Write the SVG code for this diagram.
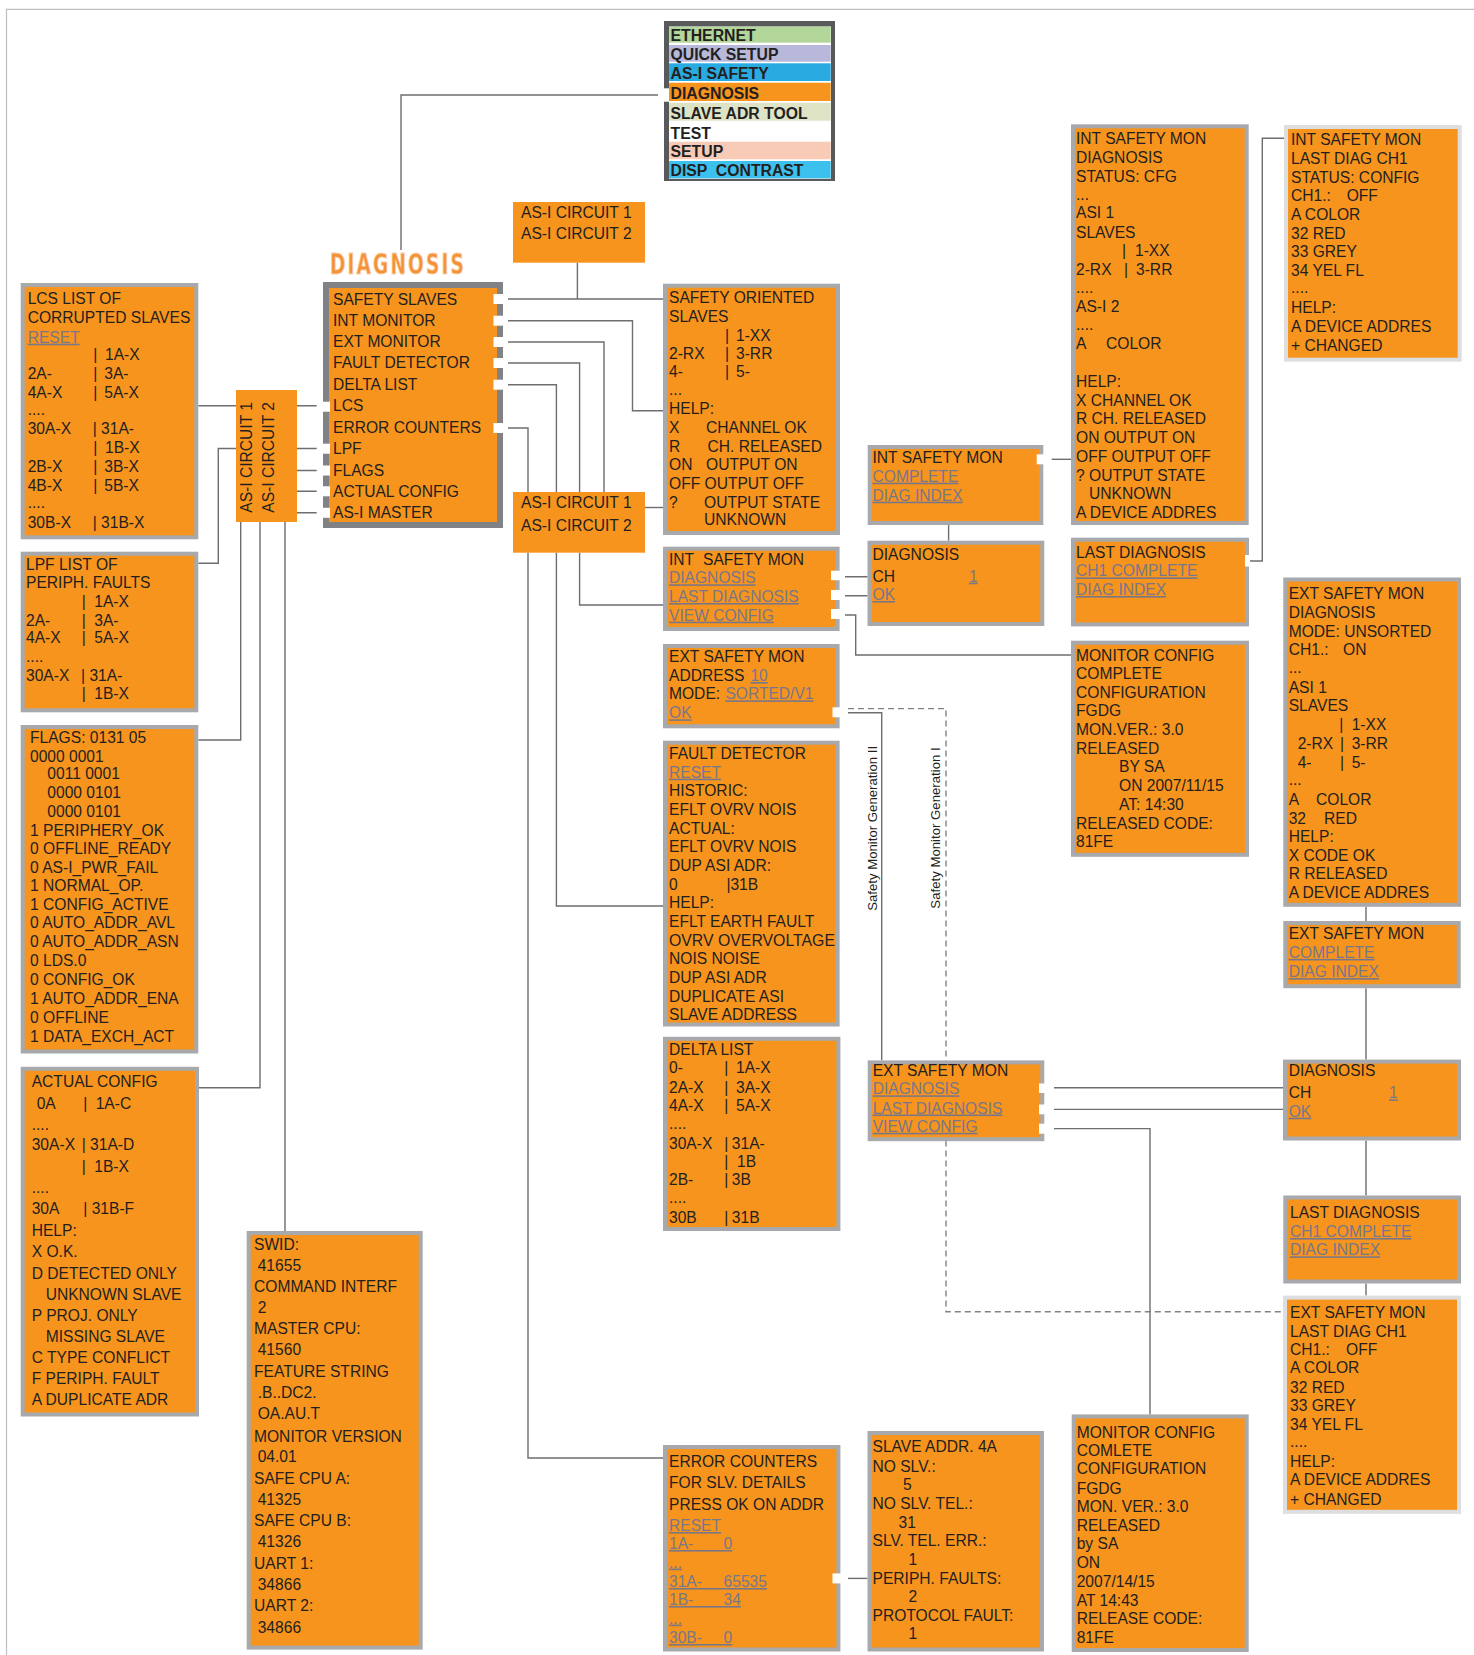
<svg xmlns="http://www.w3.org/2000/svg" width="1474" height="1655" viewBox="0 0 1474 1655">
<style>
.b{fill:#F7941D;stroke:#A7A9AC;stroke-width:4}
.bl{fill:#F7941D;stroke:#DDDEDF;stroke-width:4}
.o{fill:#F7941D}
.t{font-family:"Liberation Sans",Arial,sans-serif;font-size:15.6px;fill:#231F20}
.k{fill:#77778C;text-decoration:underline}
.w{fill:#fff}
.c{fill:none;stroke:#6D6E71;stroke-width:1.4}
.d{fill:none;stroke:#808285;stroke-width:1.4;stroke-dasharray:6 4}
.m{font-family:"Liberation Sans",Arial,sans-serif;font-size:15.8px;font-weight:bold;fill:#231F20}
.r{font-family:"Liberation Sans",Arial,sans-serif;font-size:13.2px;fill:#231F20}
</style>
<g id="frame"><path d="M6.5,1655 V9.3 H1474" fill="none" stroke="#BCBEC0" stroke-width="1.2"/></g>

<g id="connectors">
<path class="c" d="M401,250 V95 H658"/>
<path class="c" d="M508,299 H663 M577.4,262.7 V299"/>
<path class="c" d="M508,320.7 H632.5 V410.7 H663"/>
<path class="c" d="M508,342 H604 V492"/>
<path class="c" d="M508,363 H579.6 V492"/>
<path class="c" d="M508,384.7 H556.4 V492"/>
<path class="c" d="M508,428 H528 V492"/>
<path class="c" d="M645,507.5 H663"/>
<path class="c" d="M528,552.7 V1458 H663"/>
<path class="c" d="M556.4,552.7 V906 H663"/>
<path class="c" d="M579.6,552.7 V605 H663"/>
<path class="c" d="M296.7,405.7 H316.7 M198.3,405.7 H236"/>
<path class="c" d="M296.7,448.5 H316.7 M236,448.5 H218.3 V563.3 H198.3"/>
<path class="c" d="M296.7,470.5 H316.7 M240.7,522 V740 H198.3"/>
<path class="c" d="M296.7,491.3 H316.7 M260,522 V1087.7 H199"/>
<path class="c" d="M296.7,512.8 H316.7 M285,522 V1231"/>
<path class="c" d="M845,576.7 H867.5 M845,595.7 H867.5"/>
<path class="c" d="M845,615 H855.7 V655 H1071"/>
<path class="c" d="M948.6,525 V540.7"/>
<path class="c" d="M1051.7,459.3 H1071"/>
<path class="c" d="M1249,561 H1262.3 V138.3 H1284"/>
<path class="d" d="M848,708.6 H946 V1311.8 H1283"/>
<path class="c" d="M848,712.7 H881.7 V1060.4"/>
<path class="c" d="M1054,1087.8 H1283 M1054,1109.4 H1283"/>
<path class="c" d="M1054,1128.6 H1150 V1414.4"/>
<path class="c" d="M848,1578.4 H867.5"/>
<path class="c" d="M1366,906.8 V921 M1366,988.2 V1059.6 M1366,1140.5 V1195.5 M1366,1283.5 V1295.6"/>
<text class="r" transform="translate(877,828.4) rotate(-90)" text-anchor="middle">Safety Monitor Generation II</text>
<text class="r" transform="translate(939.5,828) rotate(-90)" text-anchor="middle">Safety Monitor Generation I</text>
</g>

<g id="menu">
<rect x="664" y="21" width="171" height="160" fill="#58595B"/>
<rect x="669" y="26.5" width="162" height="152.3" fill="#fff"/>
<rect x="662" y="88.3" width="7.5" height="13.4" fill="#fff"/>
<rect x="669" y="26.7" width="161.7" height="16" fill="#B3D69B"/>
<rect x="669" y="45" width="161.7" height="16.7" fill="#B8B8DA"/>
<rect x="669" y="63.3" width="161.7" height="17.7" fill="#29AAE1"/>
<rect x="669" y="82.7" width="161.7" height="18.3" fill="#F7941D"/>
<rect x="669" y="102.7" width="161.7" height="18" fill="#DEE3C5"/>
<rect x="669" y="141.7" width="161.7" height="17.6" fill="#F7CBB6"/>
<rect x="669" y="161" width="161.7" height="17.3" fill="#3CC0EE"/>
<g class="m">
<text x="670.5" y="40.7">ETHERNET</text>
<text x="670.5" y="60">QUICK SETUP</text>
<text x="670.5" y="79">AS-I SAFETY</text>
<text x="670.5" y="99.3">DIAGNOSIS</text>
<text x="670.5" y="119.3" textLength="137" lengthAdjust="spacingAndGlyphs">SLAVE ADR TOOL</text>
<text x="670.5" y="139">TEST</text>
<text x="670.5" y="157.3">SETUP</text>
<text x="670.5" y="175.7" textLength="133" lengthAdjust="spacingAndGlyphs" xml:space="preserve">DISP  CONTRAST</text>
</g>
</g>

<g id="diagnosis-title">
<text x="330" y="274" font-family="'Liberation Sans Narrow','DejaVu Sans Condensed','Liberation Sans',sans-serif" font-weight="bold" font-size="29" letter-spacing="3" fill="#F4923A" stroke="#F9CFA3" stroke-width="0.8" textLength="136" lengthAdjust="spacingAndGlyphs">DIAGNOSIS</text>
</g>

<g id="diagnosis-menu">
<rect x="326" y="285" width="174" height="240" fill="#F7941D" stroke="#808285" stroke-width="6"/>
<rect class="w" x="493.5" y="294" width="10" height="10"/>
<rect class="w" x="493.5" y="315.7" width="10" height="10"/>
<rect class="w" x="493.5" y="337" width="10" height="10"/>
<rect class="w" x="493.5" y="358" width="10" height="10"/>
<rect class="w" x="493.5" y="379.7" width="10" height="10"/>
<rect class="w" x="493.5" y="423" width="10" height="10"/>
<rect class="w" x="322.5" y="401.7" width="7.5" height="10"/>
<rect class="w" x="322.5" y="443.7" width="7.5" height="10"/>
<rect class="w" x="322.5" y="465.5" width="7.5" height="10"/>
<rect class="w" x="322.5" y="486.3" width="7.5" height="10"/>
<rect class="w" x="322.5" y="507.8" width="7.5" height="10"/>
<g class="t">
<text x="333" y="305">SAFETY SLAVES</text>
<text x="333" y="326">INT MONITOR</text>
<text x="333" y="347">EXT MONITOR</text>
<text x="333" y="368">FAULT DETECTOR</text>
<text x="333" y="390">DELTA LIST</text>
<text x="333" y="411">LCS</text>
<text x="333" y="432.5">ERROR COUNTERS</text>
<text x="333" y="454">LPF</text>
<text x="333" y="475.5">FLAGS</text>
<text x="333" y="496.7">ACTUAL CONFIG</text>
<text x="333" y="518">AS-I MASTER</text>
</g>
</g>

<g id="asi-circuit-left">
<rect class="o" x="236" y="390" width="61" height="132"/>
<g class="t">
<text transform="translate(251.7,512.7) rotate(-90)">AS-I CIRCUIT 1</text>
<text transform="translate(274,512.7) rotate(-90)">AS-I CIRCUIT 2</text>
</g>
</g>

<g id="asi-circuit-top">
<rect class="o" x="513" y="202" width="132" height="60.7"/>
<g class="t"><text x="521" y="217.7">AS-I CIRCUIT 1</text><text x="521" y="239">AS-I CIRCUIT 2</text></g>
</g>

<g id="asi-circuit-mid">
<rect class="o" x="513" y="492" width="132" height="60.7"/>
<g class="t"><text x="521" y="508.3">AS-I CIRCUIT 1</text><text x="521" y="530.7">AS-I CIRCUIT 2</text></g>
</g>

<g id="lcs">
<rect class="b" x="22.7" y="285" width="173.6" height="252.3"/>
<g class="t">
<text x="27.7" y="304">LCS LIST OF</text>
<text x="27.7" y="323.3">CORRUPTED SLAVES</text>
<text x="27.7" y="342.7" class="k">RESET</text>
<text y="360"><tspan x="93.3">|</tspan><tspan x="105">1A-X</tspan></text>
<text y="379"><tspan x="27.7">2A-</tspan><tspan x="93.3">|</tspan><tspan x="104.3">3A-</tspan></text>
<text y="397.7"><tspan x="27.7">4A-X</tspan><tspan x="93.3">|</tspan><tspan x="104.3">5A-X</tspan></text>
<text x="27.7" y="415">....</text>
<text y="434.3"><tspan x="27.7">30A-X</tspan><tspan x="92.7">| 31A-</tspan></text>
<text y="453.3"><tspan x="93.3">|</tspan><tspan x="105">1B-X</tspan></text>
<text y="472.3"><tspan x="27.7">2B-X</tspan><tspan x="93.3">|</tspan><tspan x="104.3">3B-X</tspan></text>
<text y="491"><tspan x="27.7">4B-X</tspan><tspan x="93.3">|</tspan><tspan x="104.3">5B-X</tspan></text>
<text x="27.7" y="508.3">....</text>
<text y="528.3"><tspan x="27.7">30B-X</tspan><tspan x="92.7">| 31B-X</tspan></text>
</g>
</g>

<g id="lpf">
<rect class="b" x="22.7" y="553.7" width="173.6" height="156.6"/>
<g class="t">
<text x="26" y="570">LPF LIST OF</text>
<text x="26" y="588.3">PERIPH. FAULTS</text>
<text y="606.7"><tspan x="81.7">|</tspan><tspan x="94.3">1A-X</tspan></text>
<text y="625.7"><tspan x="26">2A-</tspan><tspan x="81.7">|</tspan><tspan x="94.3">3A-</tspan></text>
<text y="643.3"><tspan x="26">4A-X</tspan><tspan x="81.7">|</tspan><tspan x="94.3">5A-X</tspan></text>
<text x="26" y="661.7">....</text>
<text y="680.7"><tspan x="26">30A-X</tspan><tspan x="81">| 31A-</tspan></text>
<text y="699.3"><tspan x="81.7">|</tspan><tspan x="94.3">1B-X</tspan></text>
</g>
</g>

<g id="flags">
<rect class="b" x="22.7" y="727" width="173.6" height="324.5"/>
<g class="t">
<text x="30" y="742.7">FLAGS: 0131 05</text>
<text x="30" y="761.7">0000 0001</text>
<text x="47.3" y="779.3">0011 0001</text>
<text x="47.3" y="798.3">0000 0101</text>
<text x="47.3" y="816.7">0000 0101</text>
<text x="30" y="835.7">1 PERIPHERY_OK</text>
<text x="30" y="854">0 OFFLINE_READY</text>
<text x="30" y="872.7">0 AS-I_PWR_FAIL</text>
<text x="30" y="891">1 NORMAL_OP.</text>
<text x="30" y="910">1 CONFIG_ACTIVE</text>
<text x="30" y="928.3">0 AUTO_ADDR_AVL</text>
<text x="30" y="947.3">0 AUTO_ADDR_ASN</text>
<text x="30" y="966">0 LDS.0</text>
<text x="30" y="985">0 CONFIG_OK</text>
<text x="30" y="1004">1 AUTO_ADDR_ENA</text>
<text x="30" y="1023">0 OFFLINE</text>
<text x="30" y="1041.8">1 DATA_EXCH_ACT</text>
</g>
</g>

<g id="actual-config">
<rect class="b" x="22.7" y="1068.8" width="174.3" height="345.7"/>
<g class="t">
<text x="31.7" y="1086.5">ACTUAL CONFIG</text>
<text y="1108.6"><tspan x="36.7">0A</tspan><tspan x="83.3">|</tspan><tspan x="95.7">1A-C</tspan></text>
<text x="31.7" y="1129.5">....</text>
<text y="1150.4"><tspan x="31.7">30A-X</tspan><tspan x="81.7">| 31A-D</tspan></text>
<text y="1172"><tspan x="81.7">|</tspan><tspan x="94.3">1B-X</tspan></text>
<text x="31.7" y="1193">....</text>
<text y="1214.3"><tspan x="31.7">30A</tspan><tspan x="83.3">| 31B-F</tspan></text>
<text x="31.7" y="1236">HELP:</text>
<text x="31.7" y="1256.9">X O.K.</text>
<text x="31.7" y="1278.6">D DETECTED ONLY</text>
<text x="45.7" y="1300">UNKNOWN SLAVE</text>
<text x="31.7" y="1320.8">P PROJ. ONLY</text>
<text x="45.7" y="1341.7">MISSING SLAVE</text>
<text x="31.7" y="1363.4">C TYPE CONFLICT</text>
<text x="31.7" y="1384.3">F PERIPH. FAULT</text>
<text x="31.7" y="1405.2">A DUPLICATE ADR</text>
</g>
</g>

<g id="as-i-master">
<rect class="b" x="248.7" y="1233" width="172" height="414.6"/>
<g class="t">
<text x="254" y="1249.8">SWID:</text>
<text x="257.7" y="1270.7">41655</text>
<text x="254" y="1291.6">COMMAND INTERF</text>
<text x="257.7" y="1313.3">2</text>
<text x="254" y="1334.2">MASTER CPU:</text>
<text x="257.7" y="1355">41560</text>
<text x="254" y="1377.2">FEATURE STRING</text>
<text x="257.7" y="1398">.B..DC2.</text>
<text x="257.7" y="1419">OA.AU.T</text>
<text x="254" y="1441.5">MONITOR VERSION</text>
<text x="257.7" y="1462.4">04.01</text>
<text x="254" y="1483.7">SAFE CPU A:</text>
<text x="257.7" y="1505.4">41325</text>
<text x="254" y="1526.3">SAFE CPU B:</text>
<text x="257.7" y="1547.2">41326</text>
<text x="254" y="1569">UART 1:</text>
<text x="257.7" y="1590.2">34866</text>
<text x="254" y="1610.7">UART 2:</text>
<text x="257.7" y="1632.8">34866</text>
</g>
</g>

<g id="safety-oriented-slaves">
<rect class="b" x="665" y="285.7" width="173" height="247.3"/>
<g class="t">
<text x="669" y="302.7">SAFETY ORIENTED</text>
<text x="669" y="321.7">SLAVES</text>
<text y="340.7"><tspan x="725">|</tspan><tspan x="736">1-XX</tspan></text>
<text y="358.7"><tspan x="669">2-RX</tspan><tspan x="725">|</tspan><tspan x="736">3-RR</tspan></text>
<text y="377.3"><tspan x="669">4-</tspan><tspan x="725">|</tspan><tspan x="736">5-</tspan></text>
<text x="669" y="395">...</text>
<text x="669" y="414">HELP:</text>
<text y="433.3"><tspan x="669">X</tspan><tspan x="706">CHANNEL OK</tspan></text>
<text y="452.3"><tspan x="669">R</tspan><tspan x="707.6">CH. RELEASED</tspan></text>
<text y="470"><tspan x="669">ON</tspan><tspan x="706">OUTPUT ON</tspan></text>
<text x="669" y="489">OFF OUTPUT OFF</text>
<text y="508.3"><tspan x="669">?</tspan><tspan x="704">OUTPUT STATE</tspan></text>
<text x="704" y="525">UNKNOWN</text>
</g>
</g>

<g id="int-safety-mon">
<rect class="b" x="665" y="548.7" width="172.6" height="80.3"/>
<rect class="w" x="831" y="570.7" width="10" height="9.5"/>
<rect class="w" x="831" y="590" width="10" height="10"/>
<rect class="w" x="831" y="609" width="10" height="10"/>
<g class="t">
<text y="565"><tspan x="669">INT</tspan><tspan x="703">SAFETY MON</tspan></text>
<text x="669" y="583.3" class="k">DIAGNOSIS</text>
<text x="669" y="602" class="k">LAST DIAGNOSIS</text>
<text x="669" y="620.7" class="k">VIEW CONFIG</text>
</g>
</g>

<g id="ext-safety-mon-address">
<rect class="b" x="665" y="646" width="172.6" height="80.3"/>
<rect class="w" x="832.5" y="707.3" width="9" height="10"/>
<g class="t">
<text x="669" y="662.3">EXT SAFETY MON</text>
<text y="681"><tspan x="669">ADDRESS</tspan><tspan x="750.4" class="k">10</tspan></text>
<text y="699.3"><tspan x="669">MODE:</tspan><tspan x="725.4" class="k">SORTED/V1</tspan></text>
<text x="669" y="718.3" class="k">OK</text>
</g>
</g>

<g id="fault-detector">
<rect class="b" x="665" y="742.7" width="172.6" height="281.8"/>
<g class="t">
<text x="669" y="759">FAULT DETECTOR</text>
<text x="669" y="777.7" class="k">RESET</text>
<text x="669" y="796">HISTORIC:</text>
<text x="669" y="814.7">EFLT OVRV NOIS</text>
<text x="669" y="833.7">ACTUAL:</text>
<text x="669" y="851.7">EFLT OVRV NOIS</text>
<text x="669" y="870.7">DUP ASI ADR:</text>
<text y="890"><tspan x="669">0</tspan><tspan x="726.4">|31B</tspan></text>
<text x="669" y="907.7">HELP:</text>
<text x="669" y="926.7">EFLT EARTH FAULT</text>
<text x="669" y="945.7" textLength="166" lengthAdjust="spacingAndGlyphs">OVRV OVERVOLTAGE</text>
<text x="669" y="963.7">NOIS NOISE</text>
<text x="669" y="982.7">DUP ASI ADR</text>
<text x="669" y="1001.5">DUPLICATE ASI</text>
<text x="669" y="1019.6">SLAVE ADDRESS</text>
</g>
</g>

<g id="delta-list">
<rect class="b" x="665" y="1038.8" width="173.4" height="190.2"/>
<g class="t">
<text x="669" y="1055.3">DELTA LIST</text>
<text y="1073.4"><tspan x="669">0-</tspan><tspan x="724.3">|</tspan><tspan x="736">1A-X</tspan></text>
<text y="1092.8"><tspan x="669">2A-X</tspan><tspan x="724.3">|</tspan><tspan x="736">3A-X</tspan></text>
<text y="1111.3"><tspan x="669">4A-X</tspan><tspan x="724.3">|</tspan><tspan x="736">5A-X</tspan></text>
<text x="669" y="1128.5">....</text>
<text y="1148.7"><tspan x="669">30A-X</tspan><tspan x="724.3">|</tspan><tspan x="731.8">31A-</tspan></text>
<text y="1167.3"><tspan x="724.3">|</tspan><tspan x="737">1B</tspan></text>
<text y="1185.3"><tspan x="669">2B-</tspan><tspan x="724.3">|</tspan><tspan x="731.8">3B</tspan></text>
<text x="669" y="1203">....</text>
<text y="1223.2"><tspan x="669">30B</tspan><tspan x="724.3">|</tspan><tspan x="731.8">31B</tspan></text>
</g>
</g>

<g id="error-counters">
<rect class="b" x="665" y="1447" width="173.4" height="202.5"/>
<rect class="w" x="832.5" y="1573.4" width="9" height="10"/>
<g class="t">
<text x="669" y="1467.3">ERROR COUNTERS</text>
<text x="669" y="1488">FOR SLV. DETAILS</text>
<text x="669" y="1509.5">PRESS OK ON ADDR</text>
<text x="669" y="1531" class="k">RESET</text>
<text x="669" y="1549" class="k">1A-&#160;&#160;&#160;&#160;&#160;&#160;&#160;0</text>
<text x="669" y="1567.6" class="k">...</text>
<text x="669" y="1587" class="k">31A-&#160;&#160;&#160;&#160;&#160;65535</text>
<text x="669" y="1605" class="k">1B-&#160;&#160;&#160;&#160;&#160;&#160;&#160;34</text>
<text x="669" y="1623.6" class="k">...</text>
<text x="669" y="1643" class="k">30B-&#160;&#160;&#160;&#160;&#160;0</text>
</g>
</g>

<g id="slave-addr">
<rect class="b" x="869.5" y="1433" width="172.5" height="216.5"/>
<g class="t">
<text x="872.5" y="1452.2">SLAVE ADDR. 4A</text>
<text x="872.5" y="1471.6">NO SLV.:</text>
<text x="903" y="1490">5</text>
<text x="872.5" y="1508.6">NO SLV. TEL.:</text>
<text x="898.6" y="1527.6">31</text>
<text x="872.5" y="1546">SLV. TEL. ERR.:</text>
<text x="908.6" y="1564.6">1</text>
<text x="872.5" y="1583.5">PERIPH. FAULTS:</text>
<text x="908.6" y="1602">2</text>
<text x="872.5" y="1620.5">PROTOCOL FAULT:</text>
<text x="908.6" y="1638.6">1</text>
</g>
</g>

<g id="int-complete">
<rect class="b" x="869.7" y="447" width="171.6" height="76"/>
<rect class="w" x="1036.7" y="454.3" width="8.3" height="10"/>
<g class="t">
<text x="872.5" y="462.7">INT SAFETY MON</text>
<text x="872.5" y="481.7" class="k">COMPLETE</text>
<text x="872.5" y="500.7" class="k">DIAG INDEX</text>
</g>
</g>

<g id="int-diagnosis-ch">
<rect class="b" x="869.5" y="542.7" width="172.8" height="81.3"/>
<g class="t">
<text x="872.5" y="560">DIAGNOSIS</text>
<text x="872.5" y="581.7">CH</text>
<text x="969" y="581.7" class="k">1</text>
<text x="872.5" y="600" class="k">OK</text>
</g>
</g>

<g id="int-diagnosis-status">
<rect class="b" x="1073" y="126.3" width="173.7" height="396.7"/>
<g class="t">
<text x="1076" y="144">INT SAFETY MON</text>
<text x="1076" y="162.7">DIAGNOSIS</text>
<text x="1076" y="181.7">STATUS: CFG</text>
<text x="1076" y="200">...</text>
<text x="1076" y="218.3">ASI 1</text>
<text x="1076" y="237.7">SLAVES</text>
<text y="256"><tspan x="1122">|</tspan><tspan x="1135">1-XX</tspan></text>
<text y="275"><tspan x="1076">2-RX</tspan><tspan x="1124">|</tspan><tspan x="1136">3-RR</tspan></text>
<text x="1076" y="293">....</text>
<text x="1076" y="311.7">AS-I 2</text>
<text x="1076" y="330">....</text>
<text y="349.3"><tspan x="1076">A</tspan><tspan x="1106">COLOR</tspan></text>
<text x="1076" y="386.7">HELP:</text>
<text x="1076" y="405.7">X CHANNEL OK</text>
<text x="1076" y="424.3">R CH. RELEASED</text>
<text x="1076" y="442.7">ON OUTPUT ON</text>
<text x="1076" y="461.7">OFF OUTPUT OFF</text>
<text x="1076" y="480.7">? OUTPUT STATE</text>
<text x="1089" y="499">UNKNOWN</text>
<text x="1076" y="518.3">A DEVICE ADDRES</text>
</g>
</g>

<g id="int-last-diagnosis">
<rect class="b" x="1073" y="539.7" width="174" height="84.7"/>
<rect class="w" x="1245" y="555" width="5" height="11.5"/>
<g class="t">
<text x="1076" y="557.9">LAST DIAGNOSIS</text>
<text x="1076" y="576.4" class="k">CH1 COMPLETE</text>
<text x="1076" y="595" class="k">DIAG INDEX</text>
</g>
</g>

<g id="int-monitor-config">
<rect class="b" x="1073" y="642.7" width="174" height="212.1"/>
<g class="t">
<text x="1076" y="661.4">MONITOR CONFIG</text>
<text x="1076" y="679.3">COMPLETE</text>
<text x="1076" y="697.9">CONFIGURATION</text>
<text x="1076" y="716.4">FGDG</text>
<text x="1076" y="734.6">MON.VER.: 3.0</text>
<text x="1076" y="753.6">RELEASED</text>
<text x="1119" y="772">BY SA</text>
<text x="1119" y="790.7">ON 2007/11/15</text>
<text x="1119" y="809.6">AT: 14:30</text>
<text x="1076" y="828.6">RELEASED CODE:</text>
<text x="1076" y="847.1">81FE</text>
</g>
</g>

<g id="int-last-diag-ch1">
<rect class="bl" x="1286" y="127" width="173.7" height="232.7"/>
<g class="t">
<text x="1291" y="145">INT SAFETY MON</text>
<text x="1291" y="164">LAST DIAG CH1</text>
<text x="1291" y="182.7">STATUS: CONFIG</text>
<text y="200.7"><tspan x="1291">CH1.:</tspan><tspan x="1346.7">OFF</tspan></text>
<text x="1291" y="220">A COLOR</text>
<text x="1291" y="239">32 RED</text>
<text x="1291" y="257">33 GREY</text>
<text x="1291" y="275.7">34 YEL FL</text>
<text x="1291" y="293.3">....</text>
<text x="1291" y="313.3">HELP:</text>
<text x="1291" y="331.7">A DEVICE ADDRES</text>
<text x="1291" y="350.7">+ CHANGED</text>
</g>
</g>

<g id="ext-diagnosis-mode">
<rect class="b" x="1285.3" y="579.5" width="173.7" height="325.3"/>
<g class="t">
<text x="1288.7" y="599">EXT SAFETY MON</text>
<text x="1288.7" y="617.9">DIAGNOSIS</text>
<text x="1288.7" y="636.8">MODE: UNSORTED</text>
<text y="655"><tspan x="1288.7">CH1.:</tspan><tspan x="1343">ON</tspan></text>
<text x="1288.7" y="672.9">...</text>
<text x="1288.7" y="692.5">ASI 1</text>
<text x="1288.7" y="711.4">SLAVES</text>
<text y="730"><tspan x="1339.3">|</tspan><tspan x="1351.7">1-XX</tspan></text>
<text y="748.6"><tspan x="1297.7">2-RX</tspan><tspan x="1340">|</tspan><tspan x="1351.7">3-RR</tspan></text>
<text y="767.5"><tspan x="1297.7">4-</tspan><tspan x="1340">|</tspan><tspan x="1351.7">5-</tspan></text>
<text x="1288.7" y="785.4">...</text>
<text y="805"><tspan x="1288.7">A</tspan><tspan x="1316">COLOR</tspan></text>
<text y="823.6"><tspan x="1288.7">32</tspan><tspan x="1324">RED</tspan></text>
<text x="1288.7" y="841.8">HELP:</text>
<text x="1288.7" y="861">X CODE OK</text>
<text x="1288.7" y="879.3">R RELEASED</text>
<text x="1288.7" y="897.9">A DEVICE ADDRES</text>
</g>
</g>

<g id="ext-complete">
<rect class="b" x="1285.3" y="923" width="173.4" height="63.2"/>
<g class="t">
<text x="1288.7" y="939">EXT SAFETY MON</text>
<text x="1288.7" y="957.9" class="k">COMPLETE</text>
<text x="1288.7" y="977.1" class="k">DIAG INDEX</text>
</g>
</g>

<g id="ext-safety-mon-links">
<rect class="b" x="869.7" y="1062.4" width="172.6" height="76.8"/>
<rect class="w" x="1039" y="1083.5" width="6.5" height="9.5"/>
<rect class="w" x="1039" y="1104.5" width="6.5" height="9.8"/>
<rect class="w" x="1039" y="1123.7" width="6.5" height="10"/>
<g class="t">
<text x="872.7" y="1076">EXT SAFETY MON</text>
<text x="872.7" y="1094.3" class="k">DIAGNOSIS</text>
<text x="872.7" y="1113.5" class="k">LAST DIAGNOSIS</text>
<text x="872.7" y="1131.8" class="k">VIEW CONFIG</text>
</g>
</g>

<g id="ext-diagnosis-ch">
<rect class="b" x="1285" y="1061.6" width="174" height="76.9"/>
<g class="t">
<text x="1288.7" y="1076.4">DIAGNOSIS</text>
<text x="1288.7" y="1098.3">CH</text>
<text x="1389" y="1098.3" class="k">1</text>
<text x="1288.7" y="1116.7" class="k">OK</text>
</g>
</g>

<g id="ext-last-diagnosis">
<rect class="b" x="1285.3" y="1197.5" width="173.7" height="84"/>
<g class="t">
<text x="1290" y="1217.5">LAST DIAGNOSIS</text>
<text x="1290" y="1237" class="k">CH1 COMPLETE</text>
<text x="1290" y="1255.3" class="k">DIAG INDEX</text>
</g>
</g>

<g id="ext-last-diag-ch1">
<rect class="bl" x="1285" y="1297.6" width="174" height="214.2"/>
<g class="t">
<text x="1290" y="1318.4">EXT SAFETY MON</text>
<text x="1290" y="1336.7">LAST DIAG CH1</text>
<text y="1355"><tspan x="1290">CH1.:</tspan><tspan x="1346">OFF</tspan></text>
<text x="1290" y="1373.4">A COLOR</text>
<text x="1290" y="1392.8">32 RED</text>
<text x="1290" y="1411">33 GREY</text>
<text x="1290" y="1429.5">34 YEL FL</text>
<text x="1290" y="1446.7">....</text>
<text x="1290" y="1466.9">HELP:</text>
<text x="1290" y="1485.2">A DEVICE ADDRES</text>
<text x="1290" y="1504.6">+ CHANGED</text>
</g>
</g>

<g id="ext-monitor-config">
<rect class="b" x="1073.7" y="1416.4" width="173" height="233.6"/>
<g class="t">
<text x="1076.7" y="1437.5">MONITOR CONFIG</text>
<text x="1076.7" y="1455.9">COMLETE</text>
<text x="1076.7" y="1474.2">CONFIGURATION</text>
<text x="1076.7" y="1493.6">FGDG</text>
<text x="1076.7" y="1512">MON. VER.: 3.0</text>
<text x="1076.7" y="1531">RELEASED</text>
<text x="1076.7" y="1549.4">by SA</text>
<text x="1076.7" y="1567.7">ON</text>
<text x="1076.7" y="1586.8">2007/14/15</text>
<text x="1076.7" y="1605.5">AT 14:43</text>
<text x="1076.7" y="1623.8">RELEASE CODE:</text>
<text x="1076.7" y="1642.9">81FE</text>
</g>
</g>
</svg>
